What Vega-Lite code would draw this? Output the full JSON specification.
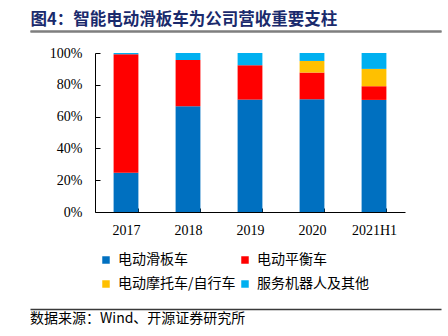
{
  "$schema": "https://vega.github.io/schema/vega-lite/v6.json",
  "autosize": {"type": "none"},
  "padding": {"left": 30, "top": 53, "right": 7, "bottom": 124},
  "width": 411,
  "height": 159,
  "background": "white",
  "title": {"text": "数据来源：Wind、开源证券研究所", "orient": "bottom", "anchor": "start", "font": "Noto Sans CJK SC", "fontSize": 14, "fontWeight": "normal", "color": "#000", "offset": 3},
  "config": {
    "view": {"stroke": null},
    "axis": {"labelFont": "Liberation Serif", "labelFontSize": 14, "labelColor": "#000", "domainColor": "#000", "tickColor": "#000", "grid": false, "title": null}
  },
  "resolve": {"scale": {"x": "independent", "color": "independent"}, "axis": {"x": "independent"}, "legend": {"color": "independent"}},
  "layer": [
    {
      "data": {"values": [
        {"year": "2017", "type": "电动滑板车", "k": 1, "share": 0.247},
        {"year": "2017", "type": "电动平衡车", "k": 2, "share": 0.745},
        {"year": "2017", "type": "服务机器人及其他", "k": 4, "share": 0.008},
        {"year": "2018", "type": "电动滑板车", "k": 1, "share": 0.665},
        {"year": "2018", "type": "电动平衡车", "k": 2, "share": 0.291},
        {"year": "2018", "type": "服务机器人及其他", "k": 4, "share": 0.044},
        {"year": "2019", "type": "电动滑板车", "k": 1, "share": 0.707},
        {"year": "2019", "type": "电动平衡车", "k": 2, "share": 0.216},
        {"year": "2019", "type": "服务机器人及其他", "k": 4, "share": 0.077},
        {"year": "2020", "type": "电动滑板车", "k": 1, "share": 0.709},
        {"year": "2020", "type": "电动平衡车", "k": 2, "share": 0.168},
        {"year": "2020", "type": "电动摩托车/自行车", "k": 3, "share": 0.073},
        {"year": "2020", "type": "服务机器人及其他", "k": 4, "share": 0.050},
        {"year": "2021H1", "type": "电动滑板车", "k": 1, "share": 0.705},
        {"year": "2021H1", "type": "电动平衡车", "k": 2, "share": 0.086},
        {"year": "2021H1", "type": "电动摩托车/自行车", "k": 3, "share": 0.109},
        {"year": "2021H1", "type": "服务机器人及其他", "k": 4, "share": 0.100}
      ]},
      "mark": {"type": "bar"},
      "encoding": {
        "x": {"field": "year", "type": "nominal", "sort": null,
              "scale": {"range": [65, 375], "paddingInner": 0.6, "paddingOuter": 0.3},
              "axis": {"labelAngle": 0, "tickBand": "extent", "tickSize": -4, "labelPadding": 15}},
        "y": {"field": "share", "type": "quantitative", "stack": "zero",
              "scale": {"domain": [0, 1]},
              "axis": {"values": [0, 0.2, 0.4, 0.6, 0.8, 1], "format": ".0%", "tickSize": -5, "labelPadding": 18, "offset": -65}},
        "color": {"field": "type", "type": "nominal",
                  "sort": ["电动滑板车", "电动平衡车", "电动摩托车/自行车", "服务机器人及其他"],
                  "scale": {"domain": ["电动滑板车", "电动平衡车", "电动摩托车/自行车", "服务机器人及其他"], "range": ["#0070c0", "#ff0000", "#ffc000", "#00b0f0"]},
                  "legend": {"orient": "none", "direction": "horizontal", "legendX": 69, "legendY": 200, "columns": 2, "title": null, "symbolType": "square", "symbolSize": 56, "symbolStrokeWidth": 0,
                             "labelFont": "Noto Sans CJK SC", "labelFontSize": 14, "labelColor": "#000", "labelOffset": 5, "rowPadding": 10, "columnPadding": 2, "padding": 0, "labelLimit": 300}},
        "order": {"field": "k", "type": "quantitative", "sort": "ascending"}
      }
    },
    {
      "data": {"values": [{"edge": 0}]},
      "mark": {"type": "point", "opacity": 0, "size": 0},
      "encoding": {
        "x": {"field": "edge", "type": "quantitative", "scale": {"domain": [0, 1]},
              "axis": {"orient": "top", "offset": 22, "labels": false, "ticks": false, "domainColor": "#7f7f7f", "domainWidth": 2,
                       "title": "图4：智能电动滑板车为公司营收重要支柱", "titleFont": "Noto Sans CJK SC", "titleFontSize": 16.5, "titleFontWeight": "bold", "titleColor": "#1a2a6c",
                       "titleAnchor": "start", "titleAlign": "left", "titlePadding": 4}}
      }
    },
    {
      "data": {"values": [{"edge": 0}]},
      "mark": {"type": "point", "opacity": 0, "size": 0},
      "encoding": {
        "x": {"field": "edge", "type": "quantitative", "scale": {"domain": [0, 1]},
              "axis": {"orient": "bottom", "offset": 97, "labels": false, "ticks": false, "domainColor": "#3a3a3a", "domainWidth": 1.5}}
      }
    },
    {
      "data": {"values": [{"edge": 0}]},
      "mark": {"type": "point", "opacity": 0, "size": 0},
      "encoding": {
        "x": {"field": "edge", "type": "quantitative", "scale": {"domain": [0, 1]},
              "axis": {"orient": "bottom", "offset": -181, "labels": false, "ticks": false, "domainColor": "#7f7f7f", "domainWidth": 2}}
      }
    }
  ]
}
